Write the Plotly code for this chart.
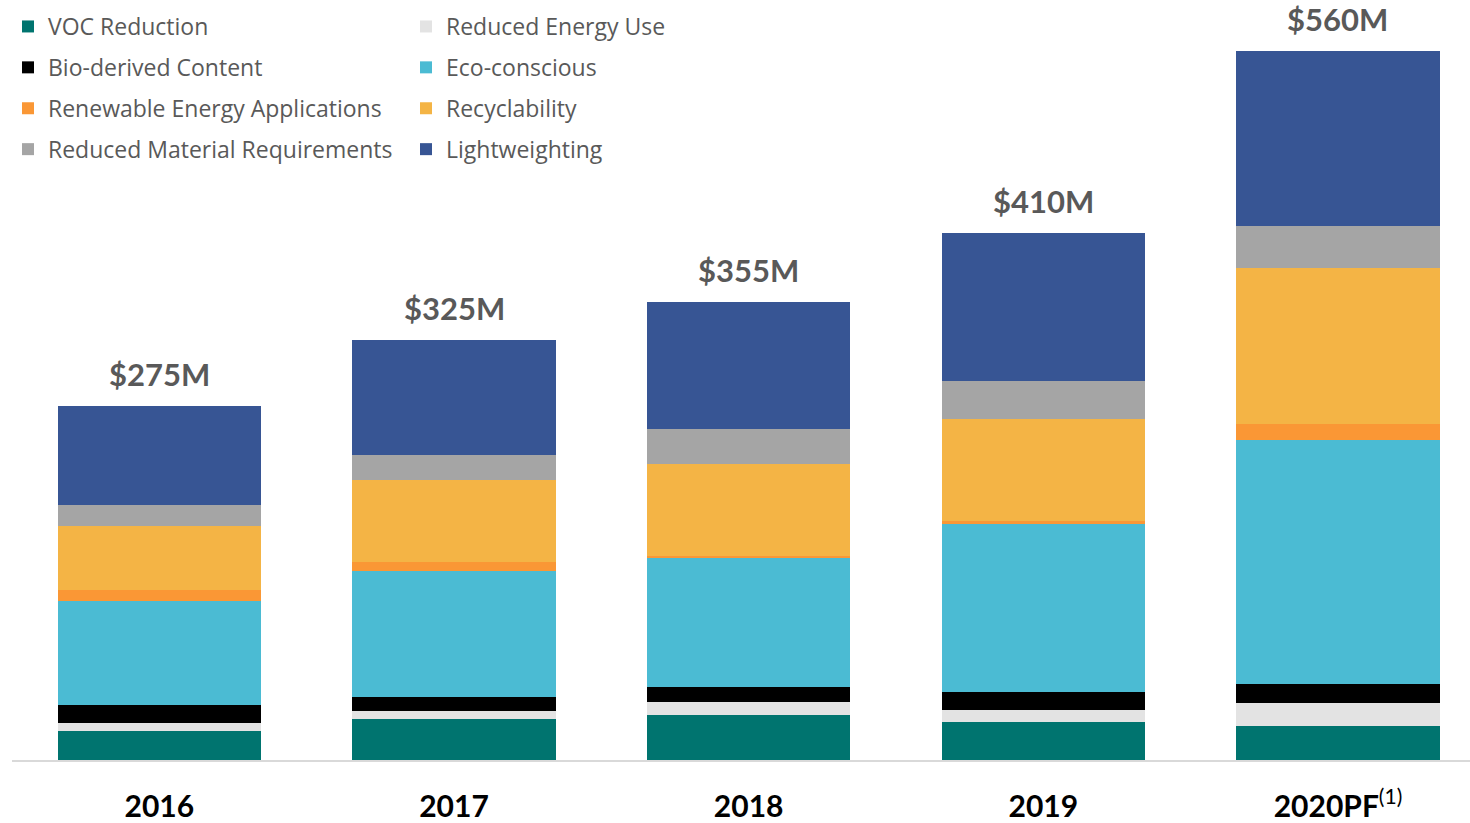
import plotly.graph_objects as go

# ---- data ($M) ----
years = ["2016", "2017", "2018", "2019", "2020PF"]
year_labels = ["<b>2016</b>", "<b>2017</b>", "<b>2018</b>", "<b>2019</b>", "<b>2020PF</b><sup>(1)</sup>"]
total_labels = ["$275M", "$325M", "$355M", "$410M", "$560M"]

voc_reduction = [22.3, 31.7, 35.0, 29.5, 26.5]
reduced_energy_use = [6.2, 6.2, 10.1, 9.6, 17.4]
bio_derived = [14.5, 11.1, 11.4, 13.9, 14.9]
eco_conscious = [80.7, 97.8, 100.1, 130.0, 189.7]
renewable_energy = [8.3, 7.0, 1.6, 2.7, 12.3]
recyclability = [49.5, 63.5, 71.6, 79.1, 120.8]
reduced_material = [16.3, 19.8, 27.5, 29.3, 33.0]
lightweighting = [77.0, 88.9, 98.5, 115.4, 136.0]

series = [
    ("VOC Reduction", voc_reduction, "#00746F", "legend"),
    ("Reduced Energy Use", reduced_energy_use, "#E3E3E3", "legend2"),
    ("Bio-derived Content", bio_derived, "#000000", "legend"),
    ("Eco-conscious", eco_conscious, "#4BBBD3", "legend2"),
    ("Renewable Energy Applications", renewable_energy, "#FA9735", "legend"),
    ("Recyclability", recyclability, "#F4B445", "legend2"),
    ("Reduced Material Requirements", reduced_material, "#A5A5A5", "legend"),
    ("Lightweighting", lightweighting, "#375594", "legend2"),
]

FONT = "Lato"
LEGEND_FONT = "Open Sans"
fig = go.Figure()
for i, (name, vals, color, lg) in enumerate(series):
    fig.add_trace(go.Bar(
        x=years, y=vals, name=name, width=0.69,
        marker=dict(color=color, line=dict(width=0)),
        legend=lg, legendgroup=name, legendrank=i,
    ))

totals = [sum(v) for v in zip(*[s[1] for s in series])]
for i, (t, lab) in enumerate(zip(totals, total_labels)):
    fig.add_annotation(x=i, y=t, text=f"<b>{lab}</b>", showarrow=False,
                       yanchor="bottom", yshift=11,
                       font=dict(family=FONT, size=31, color="#595959"))

W, H = 1470, 823
L, B = 12, 63

legend_common = dict(
    orientation="v", traceorder="grouped", tracegroupgap=8,
    font=dict(family=LEGEND_FONT, size=23, color="#595959"),
    bgcolor="rgba(0,0,0,0)", borderwidth=0,
    xanchor="left", yanchor="top", itemclick=False,
)
fig.update_layout(
    width=W, height=H,
    margin=dict(l=L, r=0, t=0, b=B),
    barmode="stack",
    plot_bgcolor="white", paper_bgcolor="white",
    showlegend=True,
    legend=dict(x=(8 - L) / (W - L), y=1.0 - 5 / (H - B), **legend_common),
    legend2=dict(x=(406 - L) / (W - L), y=1.0 - 5 / (H - B), **legend_common),
    xaxis=dict(
        type="category", range=[-0.5, 4.448],
        tickvals=years, ticktext=year_labels,
        tickfont=dict(family=FONT, size=30, color="#000000"),
        showline=True, linecolor="#D9D9D9", linewidth=2,
        showgrid=False, ticks="", ticklabelstandoff=19,
    ),
    yaxis=dict(range=[0, 590], visible=False, showgrid=False),
)

fig.write_html("out.html", config={"displayModeBar": False},
               post_script="document.body.style.margin='0';")
